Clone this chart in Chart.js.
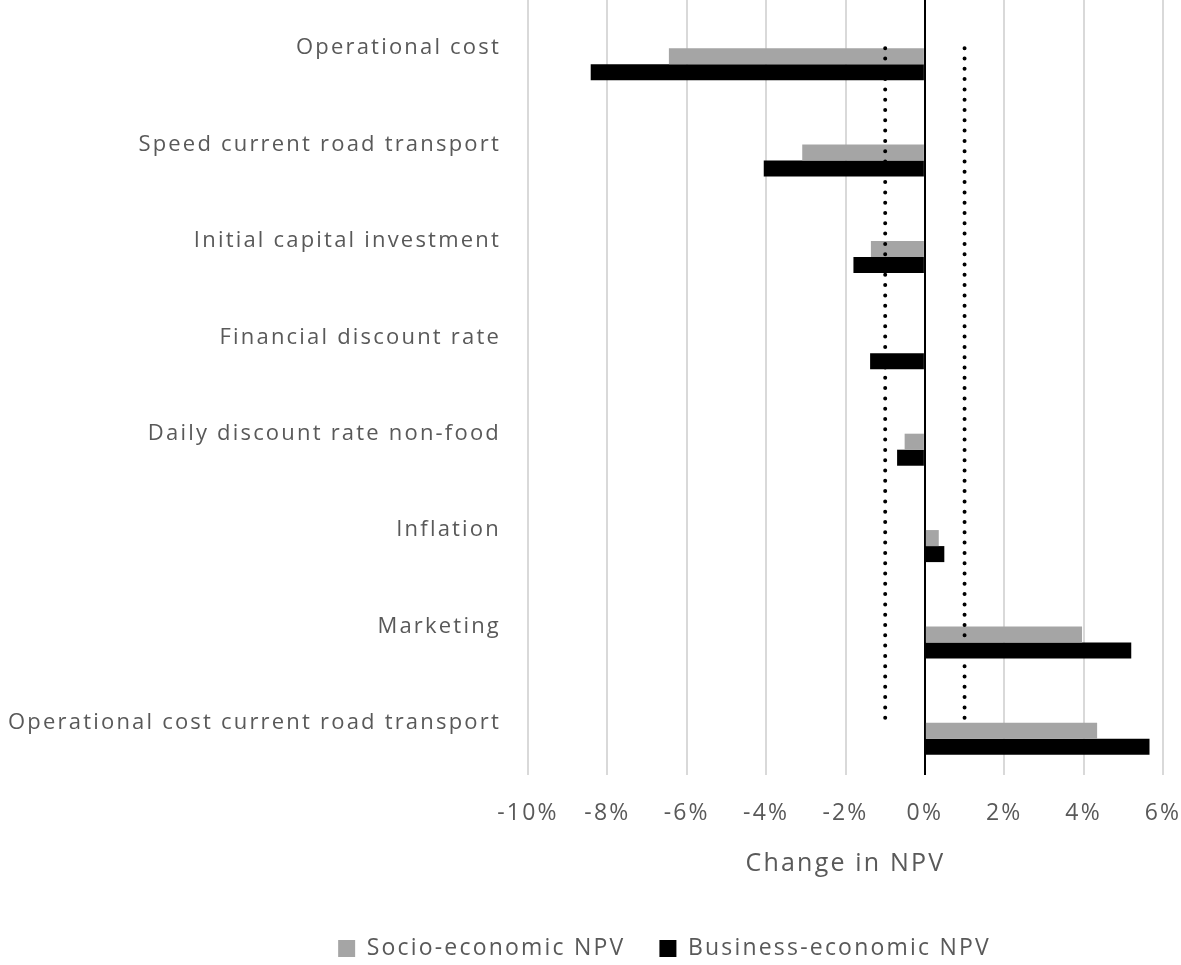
<!DOCTYPE html>
<html>
<head>
<meta charset="utf-8">
<script src="https://cdn.jsdelivr.net/npm/chart.js@4"></script>
<style>
  html, body { margin: 0; padding: 0; background: #fff; }
</style>
</head>
<body>
<canvas id="npvChart" width="1181" height="965"></canvas>
<script>
	'use strict';

	// Parameters tested
	var categories = [ 'Operational cost', 'Speed current road transport',
			'Initial capital investment', 'Financial discount rate',
			'Daily discount rate non-food', 'Inflation', 'Marketing',
			'Operational cost current road transport' ];

	// Change in NPV (%)
	var socioNPV = [ -6.45, -3.09, -1.36, 0, -0.51, 0.35, 3.96, 4.34 ];
	var businessNPV = [ -8.42, -4.06, -1.80, -1.38, -0.70, 0.49, 5.20, 5.66 ];

	// dotted reference lines
	var lowerBound = [ -1, -1, -1, -1, -1, -1, -1, -1 ];
	var upperBound = [ 1, 1, 1, 1, 1, 1, 1, 1 ];

	var xTicks = [ -10, -8, -6, -4, -2, 0, 2, 4, 6 ];

	var colors = {
		socio : '#a5a5a5',
		business : '#000000',
		grid : '#d9d9d9',
		text : '#595959'
	};
	var fontFamily = "'Open Sans', sans-serif";

	// the original text is set wide, so space the letters out a bit
	var wideText = {
		id : 'wideText',
		beforeUpdate : function(chart) {
			chart.ctx.letterSpacing = '2.2px';
		},
		beforeDraw : function(chart) {
			chart.ctx.letterSpacing = '2.2px';
		},
		// nudges the legend like the original
		afterLayout : function(chart) {
			chart.legend.left += 83;
			chart.legend.right += 83;
			chart.legend.top += 5;
			chart.legend.bottom += 5;
		}
	};

	new Chart(document.getElementById('npvChart'), {
		type : 'bar',
		data : {
			labels : categories,
			datasets : [ {
				type : 'line',
				data : lowerBound,
				borderColor : '#000',
				borderWidth : 4,
				borderDash : [ 0, 10.3 ],
				borderCapStyle : 'round',
				pointRadius : 0,
				fill : false,
				order : 0
			}, {
				type : 'line',
				data : upperBound,
				borderColor : '#000',
				borderWidth : 4,
				borderDash : [ 0, 10.3 ],
				borderCapStyle : 'round',
				pointRadius : 0,
				fill : false,
				order : 0
			},
			// two empty slots, as in the source workbook, push the bars below the label
			{ data : [], order : 1 }, { data : [], order : 1 }, {
				label : 'Socio-economic NPV',
				data : socioNPV,
				backgroundColor : colors.socio,
				order : 1
			}, {
				label : 'Business-economic NPV',
				data : businessNPV,
				backgroundColor : colors.business,
				order : 1
			} ]
		},
		options : {
			indexAxis : 'y',
			responsive : false,
			animation : false,
			datasets : {
				bar : {
					categoryPercentage : 0.665,
					barPercentage : 1.0
				}
			},
			layout : {
				padding : {
					top : 0,
					left : 0,
					right : 18,
					bottom : 0
				}
			},
			plugins : {
				tooltip : {
					enabled : false
				},
				legend : {
					position : 'bottom',
					labels : {
						filter : function(item) {
							return !!item.text;
						},
						color : colors.text,
						boxWidth : 17,
						boxHeight : 17,
						padding : 34,
						font : {
							size : 23,
							family : fontFamily
						}
					}
				}
			},
			scales : {
				x : {
					min : -10,
					max : 6,
					afterBuildTicks : function(scale) {
						scale.ticks = xTicks.map(function(v) {
							return {
								value : v
							};
						});
					},
					afterFit : function(scale) {
						scale.paddingLeft = 0;
						scale.paddingRight = 0;
						scale.height = 127;
					},
					border : {
						display : false
					},
					grid : {
						color : function(ctx) {
							return ctx.tick && ctx.tick.value === 0 ? '#000'
									: colors.grid;
						},
						lineWidth : 2,
						tickLength : 4
					},
					ticks : {
						color : colors.text,
						padding : 25,
						font : {
							size : 23,
							family : fontFamily
						},
						callback : function(v) {
							return v + '%';
						}
					},
					title : {
						display : true,
						text : 'Change in NPV',
						color : colors.text,
						padding : {
							top : 19,
							bottom : 19
						},
						font : {
							size : 25,
							family : fontFamily
						}
					}
				},
				y : {
					afterFit : function(scale) {
						scale.width = 528;
						scale.paddingTop = 0;
						scale.paddingBottom = 0;
					},
					border : {
						display : false
					},
					grid : {
						display : false,
						drawTicks : false
					},
					ticks : {
						color : colors.text,
						padding : 27,
						font : {
							size : 22,
							family : fontFamily
						}
					}
				}
			}
		},
		plugins : [ wideText ]
	});
</script>
</body>
</html>
